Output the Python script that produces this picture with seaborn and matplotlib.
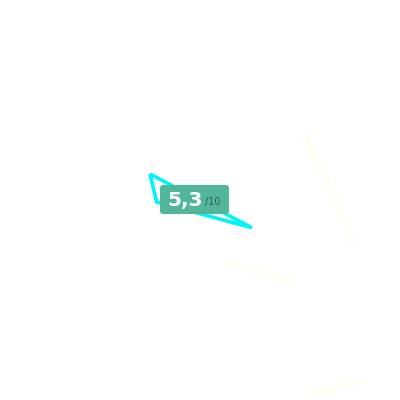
import numpy as np
import seaborn as sns
import matplotlib
matplotlib.use("Agg")
from matplotlib import pyplot as plt
from matplotlib.patches import FancyBboxPatch

# Daten
kategorien = ["Benutzerfreundlichkeit", "Klangqualität", "Preisklasse"]
winkel_grad = [150, 183, 334]   # Richtung der Achsen
werte = [3.25, 2.4, 3.95]
gesamt = "5,3"
skala = "/10"

sns.set_style("white")
plt.rcParams['font.family'] = ['DejaVu Sans']

fig = plt.figure(figsize=(4, 4), dpi=100)
fig.patch.set_facecolor("white")
ax = fig.add_axes([0.0875, 0.1, 0.8, 0.8], projection="polar")
ax.set_facecolor("white")

theta = np.deg2rad(winkel_grad + winkel_grad[:1])
r = werte + werte[:1]
sns.lineplot(x=theta, y=r, sort=False, ax=ax, color="#00f5f5", linewidth=2.6, estimator=None)
for linie in ax.lines:
    linie.set_solid_joinstyle("miter")
    linie.set_solid_capstyle("butt")
ax.set_ylim(0, 10)
ax.grid(False)
ax.set_xticks([])
ax.set_yticks([])
ax.spines["polar"].set_visible(False)
ax.set_xlabel("")
ax.set_ylabel("")

# Achsenbeschriftungen (sehr blass)
blass = "#fefee4"
fig.text(0.82, 0.525, kategorien[0], rotation=-66, color=blass, fontsize=7.8,
         ha="center", va="center", rotation_mode="anchor")
fig.text(0.65, 0.32, kategorien[1], rotation=-18, color=blass, fontsize=7.8,
         ha="center", va="center", rotation_mode="anchor")
fig.text(0.85, 0.035, kategorien[2], rotation=13, color=blass, fontsize=7.8,
         ha="center", va="center", rotation_mode="anchor")

# Bewertungsbox
box = FancyBboxPatch((0.4, 0.465), 0.1725, 0.0725, transform=fig.transFigure,
                     boxstyle="round,pad=0,rounding_size=0.008",
                     facecolor="#52b69a", edgecolor="none")
fig.patches.append(box)
fig.text(0.4625, 0.498, gesamt, color="white", fontsize=14.5, fontweight="bold",
         ha="center", va="center")
fig.text(0.532, 0.494, skala, color="#2e5e50", fontsize=7, ha="center", va="center")

fig.savefig("out.png", dpi=100)
